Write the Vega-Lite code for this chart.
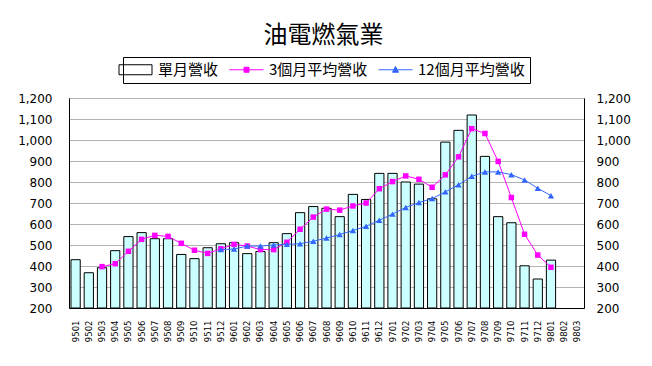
{
  "$schema": "https://vega.github.io/schema/vega-lite/v6.json",
  "width": 515,
  "height": 210,
  "autosize": {"type": "none"},
  "padding": {"left": 69, "top": 98, "right": 68, "bottom": 58},
  "background": "white",
  "title": {"text": "油電燃氣業", "font": "Noto Sans CJK TC", "fontSize": 24, "fontWeight": "normal", "color": "black", "anchor": "middle", "frame": "group", "offset": 9, "dx": -3},
  "config": {
    "view": {"stroke": "#808080", "strokeWidth": 1},
    "axis": {"labelFont": "DejaVu Sans", "labelColor": "black", "domainColor": "black", "ticks": false, "title": null, "gridColor": "#B4B4B4"},
    "legend": {
      "orient": "none", "legendX": 54, "legendY": -41, "direction": "horizontal",
      "strokeColor": "black", "fillColor": "white", "padding": 5,
      "labelFont": "Noto Sans CJK TC", "labelFontSize": 15, "labelColor": "black",
      "symbolSize": 100, "labelOffset": 15, "columnPadding": 8, "symbolStrokeWidth": 1
    }
  },
  "datasets": {
    "bars": [
      {"month": "9501", "value": 430}, {"month": "9502", "value": 368}, {"month": "9503", "value": 392}, {"month": "9504", "value": 473},
      {"month": "9505", "value": 540}, {"month": "9506", "value": 559}, {"month": "9507", "value": 530}, {"month": "9508", "value": 530},
      {"month": "9509", "value": 455}, {"month": "9510", "value": 435}, {"month": "9511", "value": 487}, {"month": "9512", "value": 506},
      {"month": "9601", "value": 511}, {"month": "9602", "value": 459}, {"month": "9603", "value": 469}, {"month": "9604", "value": 511},
      {"month": "9605", "value": 554}, {"month": "9606", "value": 654}, {"month": "9607", "value": 683}, {"month": "9608", "value": 675},
      {"month": "9609", "value": 635}, {"month": "9610", "value": 741}, {"month": "9611", "value": 717}, {"month": "9612", "value": 841},
      {"month": "9701", "value": 841}, {"month": "9702", "value": 800}, {"month": "9703", "value": 790}, {"month": "9704", "value": 720},
      {"month": "9705", "value": 990}, {"month": "9706", "value": 1046}, {"month": "9707", "value": 1119}, {"month": "9708", "value": 922},
      {"month": "9709", "value": 635}, {"month": "9710", "value": 606}, {"month": "9711", "value": 401}, {"month": "9712", "value": 338},
      {"month": "9801", "value": 428}
    ],
    "avg3": [
      {"month": "9503", "value": 397}, {"month": "9504", "value": 411}, {"month": "9505", "value": 470}, {"month": "9506", "value": 527},
      {"month": "9507", "value": 546}, {"month": "9508", "value": 541}, {"month": "9509", "value": 508}, {"month": "9510", "value": 475},
      {"month": "9511", "value": 460}, {"month": "9512", "value": 482}, {"month": "9601", "value": 503}, {"month": "9602", "value": 495},
      {"month": "9603", "value": 478}, {"month": "9604", "value": 478}, {"month": "9605", "value": 513}, {"month": "9606", "value": 575},
      {"month": "9607", "value": 633}, {"month": "9608", "value": 671}, {"month": "9609", "value": 666}, {"month": "9610", "value": 686},
      {"month": "9611", "value": 700}, {"month": "9612", "value": 768}, {"month": "9701", "value": 802}, {"month": "9702", "value": 829},
      {"month": "9703", "value": 813}, {"month": "9704", "value": 775}, {"month": "9705", "value": 834}, {"month": "9706", "value": 920},
      {"month": "9707", "value": 1054}, {"month": "9708", "value": 1031}, {"month": "9709", "value": 898}, {"month": "9710", "value": 726},
      {"month": "9711", "value": 551}, {"month": "9712", "value": 452}, {"month": "9801", "value": 394}
    ],
    "avg12": [
      {"month": "9512", "value": 478}, {"month": "9601", "value": 481}, {"month": "9602", "value": 495}, {"month": "9603", "value": 495},
      {"month": "9604", "value": 500}, {"month": "9605", "value": 503}, {"month": "9606", "value": 506}, {"month": "9607", "value": 518},
      {"month": "9608", "value": 533}, {"month": "9609", "value": 550}, {"month": "9610", "value": 569}, {"month": "9611", "value": 589},
      {"month": "9612", "value": 618}, {"month": "9701", "value": 647}, {"month": "9702", "value": 679}, {"month": "9703", "value": 702},
      {"month": "9704", "value": 721}, {"month": "9705", "value": 753}, {"month": "9706", "value": 787}, {"month": "9707", "value": 827},
      {"month": "9708", "value": 848}, {"month": "9709", "value": 848}, {"month": "9710", "value": 835}, {"month": "9711", "value": 810},
      {"month": "9712", "value": 770}, {"month": "9801", "value": 735}
    ]
  },
  "encoding": {
    "x": {
      "field": "month", "type": "ordinal",
      "scale": {
        "domain": ["9501","9502","9503","9504","9505","9506","9507","9508","9509","9510","9511","9512",
                   "9601","9602","9603","9604","9605","9606","9607","9608","9609","9610","9611","9612",
                   "9701","9702","9703","9704","9705","9706","9707","9708","9709","9710","9711","9712",
                   "9801","9802","9803"],
        "paddingInner": 0.3, "paddingOuter": 0.15
      },
      "axis": {"labelAngle": -90, "labelFontSize": 8.5, "labelPadding": 12, "grid": false, "domainColor": "black"}
    }
  },
  "layer": [
    {
      "data": {"name": "bars"},
      "mark": {"type": "bar", "filled": false, "fill": "#CCFFFF", "strokeWidth": 1},
      "encoding": {
        "y": {
          "field": "value", "type": "quantitative",
          "scale": {"domain": [200, 1200], "zero": false, "nice": false},
          "axis": {"orient": "left", "values": [200,300,400,500,600,700,800,900,1000,1100,1200], "format": ",d", "labelFontSize": 12, "labelPadding": 17, "grid": true}
        },
        "y2": {"datum": 200},
        "color": {
          "datum": "單月營收",
          "scale": {"domain": ["單月營收", "3個月平均營收", "12個月平均營收"], "range": ["#000000", "#FF00FF", "#3366FF"]},
          "legend": {
            "title": null,
            "encode": {
              "symbols": {
                "update": {
                  "shape": {"signal": "datum.value === '單月營收' ? 'M-3.3,-1H3.3V1H-3.3Z' : datum.value === '3個月平均營收' ? 'M-3.4,0H3.4M-0.5,-0.5H0.5V0.5H-0.5Z' : 'M-3.4,0H3.4M0,-0.65L0.6,0.5H-0.6Z'"},
                  "fillOpacity": {"signal": "datum.value === '單月營收' ? 0 : 1"}
                },
                "shape": {"value": {"signal": "datum.value === '單月營收' ? 'M-3.3,-1H3.3V1H-3.3Z' : datum.value === '3個月平均營收' ? 'M-3.4,0H3.4M-0.5,-0.5H0.5V0.5H-0.5Z' : 'M-3.4,0H3.4M0,-0.65L0.6,0.5H-0.6Z'"}},
                "fillOpacity": {"value": {"signal": "datum.value === '單月營收' ? 0 : 1"}}
              }
            }
          }
        }
      }
    },
    {
      "data": {"name": "avg3"},
      "mark": {"type": "line", "strokeWidth": 1, "point": {"shape": "square", "size": 30, "filled": true, "opacity": 1}},
      "encoding": {
        "y": {
          "field": "value", "type": "quantitative",
          "scale": {"domain": [200, 1200], "zero": false, "nice": false},
          "axis": {"orient": "right", "values": [200,300,400,500,600,700,800,900,1000,1100,1200], "format": ",d", "labelFontSize": 12, "labelPadding": 12, "grid": false}
        },
        "color": {
          "datum": "3個月平均營收",
          "legend": {
            "title": null,
            "encode": {
              "symbols": {
                "update": {
                  "shape": {"signal": "datum.value === '單月營收' ? 'M-3.3,-1H3.3V1H-3.3Z' : datum.value === '3個月平均營收' ? 'M-3.4,0H3.4M-0.5,-0.5H0.5V0.5H-0.5Z' : 'M-3.4,0H3.4M0,-0.65L0.6,0.5H-0.6Z'"},
                  "fillOpacity": {"signal": "datum.value === '單月營收' ? 0 : 1"}
                },
                "shape": {"value": {"signal": "datum.value === '單月營收' ? 'M-3.3,-1H3.3V1H-3.3Z' : datum.value === '3個月平均營收' ? 'M-3.4,0H3.4M-0.5,-0.5H0.5V0.5H-0.5Z' : 'M-3.4,0H3.4M0,-0.65L0.6,0.5H-0.6Z'"}},
                "fillOpacity": {"value": {"signal": "datum.value === '單月營收' ? 0 : 1"}}
              }
            }
          }
        }
      }
    },
    {
      "data": {"name": "avg12"},
      "mark": {"type": "line", "strokeWidth": 1, "point": {"shape": "triangle-up", "size": 40, "filled": true, "opacity": 1}},
      "encoding": {
        "y": {
          "field": "value", "type": "quantitative",
          "scale": {"domain": [200, 1200], "zero": false, "nice": false},
          "axis": null
        },
        "color": {
          "datum": "12個月平均營收",
          "legend": {
            "title": null,
            "encode": {
              "symbols": {
                "update": {
                  "shape": {"signal": "datum.value === '單月營收' ? 'M-3.3,-1H3.3V1H-3.3Z' : datum.value === '3個月平均營收' ? 'M-3.4,0H3.4M-0.5,-0.5H0.5V0.5H-0.5Z' : 'M-3.4,0H3.4M0,-0.65L0.6,0.5H-0.6Z'"},
                  "fillOpacity": {"signal": "datum.value === '單月營收' ? 0 : 1"}
                },
                "shape": {"value": {"signal": "datum.value === '單月營收' ? 'M-3.3,-1H3.3V1H-3.3Z' : datum.value === '3個月平均營收' ? 'M-3.4,0H3.4M-0.5,-0.5H0.5V0.5H-0.5Z' : 'M-3.4,0H3.4M0,-0.65L0.6,0.5H-0.6Z'"}},
                "fillOpacity": {"value": {"signal": "datum.value === '單月營收' ? 0 : 1"}}
              }
            }
          }
        }
      }
    }
  ],
  "resolve": {"axis": {"y": "independent"}}
}
